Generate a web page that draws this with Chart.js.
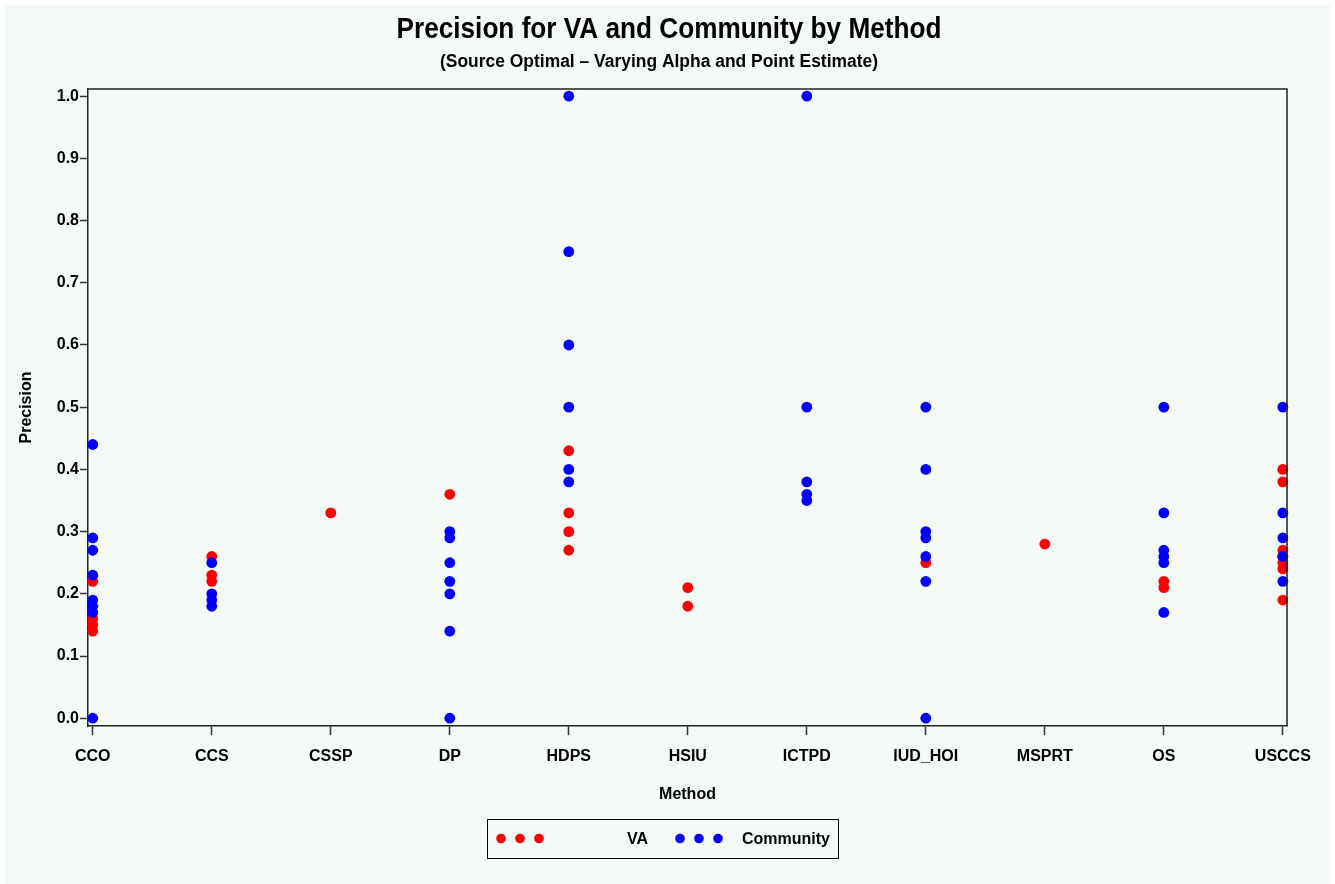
<!DOCTYPE html>
<html>
<head>
<meta charset="utf-8">
<title>Precision for VA and Community by Method</title>
<script src="https://cdn.jsdelivr.net/npm/chart.js@4.4.1/dist/chart.umd.min.js"></script>
<style>
  html, body { margin: 0; padding: 0; background: #ffffff; }
  #wrap { width: 1335px; height: 884px; position: relative; }
</style>
</head>
<body>
<div id="wrap"><canvas id="chart" width="1335" height="884"></canvas></div>
<script>
// Methods along the horizontal axis
const methods = ['CCO', 'CCS', 'CSSP', 'DP', 'HDPS', 'HSIU', 'ICTPD', 'IUD_HOI', 'MSPRT', 'OS', 'USCCS'];

// Precision values per method (one inner list per method, same order as above)
const vaPrecision = [
  [0.22, 0.16, 0.15, 0.14],
  [0.26, 0.23, 0.22],
  [0.33],
  [0.36],
  [0.43, 0.33, 0.30, 0.27],
  [0.21, 0.18],
  [],
  [0.25],
  [0.28],
  [0.22, 0.21],
  [0.40, 0.38, 0.27, 0.26, 0.25, 0.24, 0.19]
];

const communityPrecision = [
  [0.44, 0.29, 0.27, 0.23, 0.19, 0.18, 0.17, 0.00],
  [0.25, 0.20, 0.19, 0.18],
  [],
  [0.30, 0.29, 0.25, 0.22, 0.20, 0.14, 0.00],
  [1.00, 0.75, 0.60, 0.50, 0.40, 0.38],
  [],
  [1.00, 0.50, 0.38, 0.36, 0.35],
  [0.50, 0.40, 0.30, 0.29, 0.26, 0.22, 0.00],
  [],
  [0.50, 0.33, 0.27, 0.26, 0.25, 0.17],
  [0.50, 0.33, 0.29, 0.26, 0.22]
];

// Vertical axis tick values
const precisionTicks = [0.0, 0.1, 0.2, 0.3, 0.4, 0.5, 0.6, 0.7, 0.8, 0.9, 1.0];

const chartTitle = 'Precision for VA and Community by Method';
const chartSubtitle = '(Source Optimal \u2013 Varying Alpha and Point Estimate)';
const xTitle = 'Method';
const yTitle = 'Precision';

const BG = '#f5faf6';
const INK = '#000000';
const FRAME = '#222222';
const FONT = '"Liberation Sans", Arial, Helvetica, sans-serif';

function toPoints(groups) {
  const pts = [];
  groups.forEach((vals, i) => vals.forEach(v => pts.push({ x: i, y: v })));
  return pts;
}

// Page background, titles, frame and legend
const decor = {
  id: 'decor',
  beforeDraw(chart) {
    const ctx = chart.ctx;
    ctx.save();
    ctx.fillStyle = '#ffffff';
    ctx.fillRect(0, 0, chart.width, chart.height);
    ctx.fillStyle = BG;
    ctx.fillRect(5, 5, chart.width - 10, chart.height - 5);
    ctx.restore();
  },
  afterDatasetsDraw(chart) {
    const ctx = chart.ctx;
    const a = chart.chartArea;
    ctx.save();
    ctx.strokeStyle = FRAME;
    ctx.lineWidth = 1.5;
    ctx.beginPath();
    ctx.moveTo(a.left, a.top);
    ctx.lineTo(a.right, a.top);
    ctx.lineTo(a.right, a.bottom);
    ctx.stroke();
    ctx.restore();
  },
  afterDraw(chart) {
    const ctx = chart.ctx;
    const a = chart.chartArea;
    const cx = (a.left + a.right) / 2;
    const cy = (a.top + a.bottom) / 2;
    ctx.save();
    ctx.fillStyle = INK;
    ctx.textAlign = 'center';
    ctx.textBaseline = 'middle';

    // Condensed-looking headings: larger glyphs squeezed into the heading width
    ctx.font = 'bold 29px ' + FONT;
    ctx.fillText(chartTitle, 669, 30, 545);
    ctx.font = 'bold 18px ' + FONT;
    ctx.fillText(chartSubtitle, 659, 62, 438);

    ctx.font = 'bold 16px ' + FONT;
    ctx.fillText(xTitle, cx, 795);
    ctx.save();
    ctx.translate(27, cy);
    ctx.rotate(-Math.PI / 2);
    ctx.fillText(yTitle, 0, 0);
    ctx.restore();

    // Legend box
    const bx = 487, by = 819, bw = 351, bh = 39;
    ctx.strokeStyle = '#000000';
    ctx.lineWidth = 1;
    ctx.strokeRect(bx + 0.5, by + 0.5, bw, bh);
    const ly = by + bh / 2;
    const entries = [
      { ds: chart.data.datasets[0], dotX: 501, textX: 627 },
      { ds: chart.data.datasets[1], dotX: 680, textX: 742 }
    ];
    ctx.textAlign = 'left';
    ctx.font = 'bold 16px ' + FONT;
    entries.forEach(e => {
      ctx.fillStyle = e.ds.backgroundColor;
      for (let k = 0; k < 3; k++) {
        ctx.beginPath();
        ctx.arc(e.dotX + k * 19, ly, 4.8, 0, Math.PI * 2);
        ctx.fill();
      }
      ctx.fillStyle = INK;
      ctx.fillText(e.ds.label, e.textX, ly + 1);
    });
    ctx.restore();
  }
};

new Chart(document.getElementById('chart'), {
  type: 'scatter',
  data: {
    datasets: [
      {
        label: 'VA',
        data: toPoints(vaPrecision),
        backgroundColor: '#ff0000',
        borderColor: '#ff0000',
        borderWidth: 0,
        pointRadius: 5.4,
        pointHoverRadius: 5.4,
        order: 2,
        clip: false
      },
      {
        label: 'Community',
        data: toPoints(communityPrecision),
        backgroundColor: '#0000ff',
        borderColor: '#0000ff',
        borderWidth: 0,
        pointRadius: 5.4,
        pointHoverRadius: 5.4,
        order: 1,
        clip: false
      }
    ]
  },
  options: {
    responsive: false,
    animation: false,
    events: [],
    layout: { padding: { left: 0, right: 48, top: 89, bottom: 98 } },
    plugins: {
      legend: { display: false },
      title: { display: false },
      tooltip: { enabled: false }
    },
    scales: {
      x: {
        type: 'linear',
        min: -0.04,
        max: 10.035,
        afterFit(scale) { scale.height = 60; },
        afterBuildTicks(scale) { scale.ticks = methods.map((m, i) => ({ value: i })); },
        ticks: {
          autoSkip: false,
          maxRotation: 0,
          padding: 12,
          color: INK,
          font: { family: FONT, size: 16, weight: 'bold' },
          callback: (v) => methods[v]
        },
        grid: {
          drawOnChartArea: false,
          drawTicks: true,
          tickLength: 9,
          tickColor: '#333333',
          tickWidth: 1.5
        },
        border: { display: true, color: FRAME, width: 1.5 }
      },
      y: {
        type: 'linear',
        min: -0.0125,
        max: 1.0115,
        afterFit(scale) { scale.width = 88; },
        afterBuildTicks(scale) { scale.ticks = precisionTicks.map(v => ({ value: v })); },
        ticks: {
          padding: 1,
          color: INK,
          font: { family: FONT, size: 16, weight: 'bold' },
          callback: (v) => Number(v).toFixed(1)
        },
        grid: {
          drawOnChartArea: false,
          drawTicks: true,
          tickLength: 8,
          tickColor: '#333333',
          tickWidth: 1.5
        },
        border: { display: true, color: FRAME, width: 1.5 }
      }
    }
  },
  plugins: [decor]
});
</script>
</body>
</html>
